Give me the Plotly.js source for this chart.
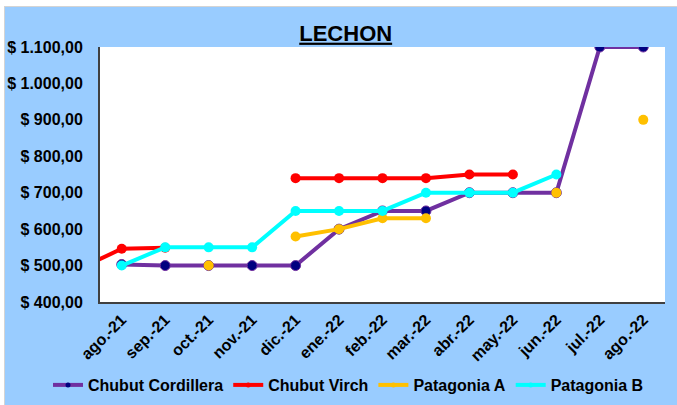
<!DOCTYPE html>
<html>
<head>
<meta charset="utf-8">
<script src="https://cdn.plot.ly/plotly-3.0.1.min.js"></script>
<style>
  html, body { margin: 0; padding: 0; background: #ffffff; overflow: hidden; }
  #chart { position: absolute; left: 4px; top: 6px; width: 672px; height: 412px;
           border-left: 1px solid #d4d4d4; border-top: 1px solid #d4d4d4; }
</style>
</head>
<body>
<div id="chart"></div>
<script>
// Categories (first one is only partly visible: the line enters from the left edge)
const months = ["jul.-21", "ago.-21", "sep.-21", "oct.-21", "nov.-21", "dic.-21", "ene.-22",
                "feb.-22", "mar.-22", "abr.-22", "may.-22", "jun.-22", "jul.-22", "ago.-22"];

// Series values
const chubutCordillera = [null, 503, 500, 500, 500, 500, 600, 650, 650, 700, 700, 700, 1100, 1100];
const chubutVirch      = [490, 546, 549, null, null, 740, 740, 740, 740, 750, 750, null, null, null];
const patagoniaA       = [null, null, null, 500, null, 580, 600, 630, 630, null, null, 700, null, 900];
const patagoniaB       = [null, 500, 550, 550, 550, 650, 650, 650, 700, 700, 700, 750, null, null];

// Axis ticks
const yTickVals = [400, 500, 600, 700, 800, 900, 1000, 1100];
const yTickText = ["$ 400,00", "$ 500,00", "$ 600,00", "$ 700,00", "$ 800,00", "$ 900,00", "$ 1.000,00", "$ 1.100,00"];
const yGridVals = [500, 600, 700, 800, 900, 1000];

const seriesNames = ["Chubut Cordillera", "Chubut Virch", "Patagonia A", "Patagonia B"];
const seriesData = [chubutCordillera, chubutVirch, patagoniaA, patagoniaB];
const lineColors = ["#7030A0", "#FF0000", "#FFC000", "#00FFFF"];
const markerColors = ["#000080", "#FF0000", "#FFC000", "#00FFFF"];

const FONT = "Liberation Sans, Arial, Helvetica, sans-serif";

const traces = [];
seriesData.forEach((vals, i) => {
  traces.push({
    type: "scatter", mode: "lines+markers", name: seriesNames[i],
    x: months, y: vals, legendgroup: "g" + i, showlegend: false,
    line: { color: lineColors[i], width: 4 },
    marker: { color: markerColors[i], size: 10,
              line: { color: lineColors[i], width: i === 0 ? 1 : 0 } },
    hoverinfo: "x+y+name"
  });
});
// legend entries (small markers as in the reference)
seriesData.forEach((vals, i) => {
  traces.push({
    type: "scatter", mode: "lines+markers", name: seriesNames[i],
    x: [null], y: [null], legendgroup: "g" + i, showlegend: true,
    line: { color: lineColors[i], width: 4 },
    marker: { color: markerColors[i], size: 5 }
  });
});

const H = 412;
const layout = {
  width: 672, height: H,
  paper_bgcolor: "#99CCFF", plot_bgcolor: "#FFFFFF",
  margin: { l: 95, r: 12, t: 40, b: H - 40 - 255 },
  font: { family: FONT, color: "#000000" },
  title: {
    text: "LECHON", xref: "container", x: 0.507, xanchor: "center",
    yref: "container", y: 1 - 26 / H, yanchor: "middle",
    font: { family: FONT, size: 22, weight: 700, color: "#000000", lineposition: "under" }
  },
  xaxis: {
    type: "category", categoryorder: "array", categoryarray: months,
    range: [0.5, 13.5], tickangle: -45, showgrid: false, zeroline: false,
    showline: true, linecolor: "#404040", linewidth: 2, ticks: "",
    tickfont: { family: FONT, size: 16, weight: 700, color: "#000000" }
  },
  yaxis: {
    range: [400, 1100], tickvals: yTickVals, ticktext: yTickText,
    showgrid: false, zeroline: false, showline: true, linecolor: "#404040", linewidth: 2,
    ticks: "", ticklabelstandoff: 12,
    tickfont: { family: FONT, size: 16, weight: 700, color: "#000000" }
  },
  yaxis2: {
    overlaying: "y", range: [400, 1100], tickvals: yGridVals, showticklabels: false,
    showgrid: true, gridcolor: "#8c8c8c", gridwidth: 1.5, zeroline: false, showline: false, ticks: ""
  },
  legend: {
    orientation: "h", xref: "paper", x: -0.092, xanchor: "left",
    yref: "paper", y: -0.3255, yanchor: "middle", bgcolor: "rgba(0,0,0,0)",
    font: { family: FONT, size: 16, weight: 700, color: "#000000" }
  },
  showlegend: true
};

Plotly.newPlot("chart", traces, layout, { displayModeBar: false, staticPlot: true });
</script>
</body>
</html>
